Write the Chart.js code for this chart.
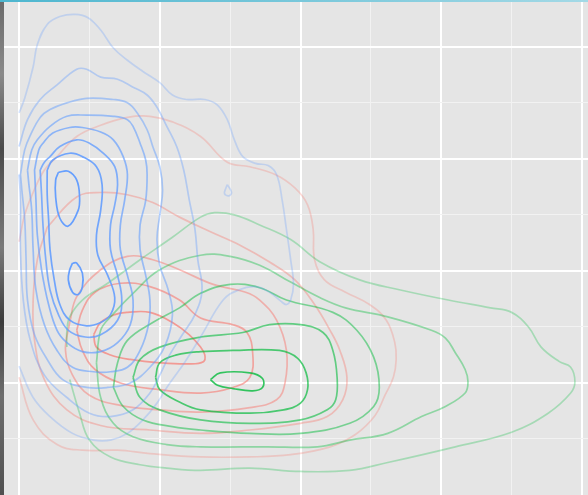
<!DOCTYPE html>
<html>
<head>
<meta charset="utf-8">
<script src="https://cdn.jsdelivr.net/npm/chart.js@4.4.1/dist/chart.umd.min.js"></script>
<style>
  html, body { margin: 0; padding: 0; background: #ffffff; overflow: hidden; }
  #wrap { width: 588px; height: 495px; position: relative; }
</style>
</head>
<body>
<div id="wrap"><canvas id="chart" width="588" height="495"></canvas></div>
<script>
// Grid breaks (major on whole numbers, minor halfway between)
const xBreaks = [0, 0.5, 1, 1.5, 2, 2.5, 3, 3.5, 4];
const yBreaks = [-0.5, 0, 0.5, 1, 1.5, 2, 2.5, 3];

// Density contour paths per group, as [x, y] pairs, outermost level first
const bluePaths = [
  [[0,2.41],[0.04,2.54],[0.10,2.82],[0.13,3.02],[0.20,3.20],[0.29,3.27],[0.40,3.29],[0.49,3.26],[0.58,3.15],[0.67,2.99],[0.77,2.88],[0.88,2.78],[1.00,2.68],[1.09,2.57],[1.19,2.53],[1.32,2.53],[1.41,2.48],[1.48,2.35],[1.53,2.17],[1.59,2.02],[1.68,1.96],[1.77,1.94],[1.83,1.86],[1.87,1.63],[1.90,1.37],[1.93,1.10],[1.95,0.88],[1.93,0.74],[1.90,0.70],[1.86,0.73],[1.78,0.81],[1.68,0.86],[1.56,0.83],[1.45,0.74],[1.29,0.41],[1.18,0.19],[1.05,-0.04],[0.98,-0.18],[0.88,-0.33],[0.77,-0.45],[0.65,-0.51],[0.53,-0.51],[0.38,-0.45],[0.22,-0.30],[0.10,-0.13],[0,0.15]],
  [[1.48,1.77],[1.51,1.70],[1.49,1.67],[1.46,1.69],[1.47,1.74]],
  [[0,2.11],[0.06,2.35],[0.15,2.53],[0.27,2.66],[0.41,2.80],[0.48,2.80],[0.58,2.73],[0.70,2.71],[0.81,2.64],[0.91,2.57],[0.98,2.46],[1.05,2.29],[1.12,2.11],[1.17,1.90],[1.21,1.63],[1.25,1.37],[1.27,1.10],[1.30,0.83],[1.25,0.61],[1.16,0.43],[1.07,0.25],[1.00,0.07],[0.93,-0.09],[0.81,-0.24],[0.65,-0.30],[0.50,-0.27],[0.34,-0.13],[0.18,0.07],[0.08,0.38],[0.03,0.74],[0.01,1.19],[0.01,1.63],[0,1.86]],
  [[0.01,1.86],[0.04,2.08],[0.08,2.21],[0.15,2.37],[0.22,2.44],[0.34,2.50],[0.48,2.54],[0.67,2.53],[0.77,2.50],[0.84,2.41],[0.91,2.26],[0.95,2.11],[1.00,1.93],[1.02,1.72],[1.00,1.50],[0.98,1.28],[1.00,1.05],[1.06,0.83],[1.09,0.61],[1.04,0.34],[0.93,0.14],[0.79,0],[0.63,-0.04],[0.48,-0.04],[0.31,0.03],[0.20,0.21],[0.11,0.43],[0.06,0.74],[0.05,1.10],[0.04,1.46],[0.02,1.72]],
  [[0.06,1.90],[0.09,2.08],[0.13,2.17],[0.22,2.29],[0.34,2.38],[0.48,2.39],[0.67,2.38],[0.77,2.35],[0.81,2.29],[0.86,2.14],[0.90,1.99],[0.91,1.86],[0.90,1.63],[0.86,1.41],[0.86,1.19],[0.90,0.96],[0.93,0.74],[0.92,0.52],[0.86,0.29],[0.77,0.14],[0.65,0.10],[0.53,0.10],[0.38,0.14],[0.27,0.29],[0.18,0.52],[0.12,0.83],[0.10,1.19],[0.09,1.54],[0.07,1.77]],
  [[0.11,1.90],[0.14,2.08],[0.17,2.14],[0.24,2.23],[0.36,2.28],[0.45,2.28],[0.58,2.24],[0.67,2.17],[0.74,2.02],[0.77,1.86],[0.75,1.63],[0.72,1.41],[0.72,1.19],[0.77,0.96],[0.81,0.74],[0.79,0.52],[0.70,0.36],[0.58,0.28],[0.45,0.28],[0.34,0.36],[0.27,0.47],[0.21,0.70],[0.16,1.01],[0.13,1.32],[0.12,1.63]],
  [[0.15,1.90],[0.18,1.97],[0.22,2.02],[0.29,2.11],[0.41,2.17],[0.50,2.14],[0.60,2.05],[0.68,1.93],[0.70,1.77],[0.68,1.59],[0.65,1.41],[0.65,1.19],[0.70,0.96],[0.73,0.74],[0.70,0.56],[0.58,0.43],[0.47,0.41],[0.35,0.47],[0.28,0.61],[0.22,0.83],[0.19,1.10],[0.17,1.41],[0.16,1.68]],
  [[0.20,1.90],[0.24,1.99],[0.36,2.05],[0.45,2.02],[0.55,1.93],[0.59,1.77],[0.58,1.54],[0.55,1.32],[0.56,1.14],[0.63,0.96],[0.68,0.76],[0.65,0.61],[0.58,0.54],[0.48,0.51],[0.36,0.56],[0.29,0.70],[0.25,0.92],[0.22,1.19],[0.21,1.46],[0.20,1.68]],
  [[0.28,1.88],[0.35,1.89],[0.41,1.81],[0.43,1.66],[0.42,1.54],[0.35,1.40],[0.29,1.47],[0.26,1.66],[0.26,1.81]],
  [[0.38,1.07],[0.41,1.07],[0.45,0.98],[0.45,0.86],[0.42,0.79],[0.38,0.81],[0.35,0.92],[0.36,1.01]]
];
const blueLevels = [1, 1, 2, 3, 4, 5, 6, 7, 8, 8];
const blueClosed = [false, true, false, true, true, true, true, true, true, true];

const redPaths = [
  [[0,1.26],[0.04,1.50],[0.10,1.70],[0.18,1.90],[0.27,2.02],[0.41,2.20],[0.58,2.30],[0.77,2.37],[0.93,2.38],[1.09,2.33],[1.29,2.20],[1.48,1.97],[1.64,1.93],[1.82,1.86],[1.96,1.74],[2.05,1.59],[2.09,1.37],[2.10,1.10],[2.17,0.92],[2.32,0.81],[2.49,0.70],[2.61,0.56],[2.67,0.36],[2.68,0.21],[2.66,0.05],[2.60,-0.11],[2.53,-0.29],[2.39,-0.46],[2.21,-0.57],[1.93,-0.64],[1.64,-0.66],[1.29,-0.66],[0.93,-0.63],[0.70,-0.60],[0.45,-0.60],[0.27,-0.55],[0.10,-0.33],[0,0.05]],
  [[0.20,1.39],[0.41,1.66],[0.58,1.70],[0.77,1.68],[0.95,1.61],[1.14,1.48],[1.36,1.35],[1.57,1.23],[1.78,1.08],[1.96,0.92],[2.10,0.70],[2.21,0.47],[2.28,0.29],[2.33,0.05],[2.30,-0.15],[2.19,-0.30],[2.00,-0.36],[1.64,-0.42],[1.29,-0.45],[0.93,-0.42],[0.58,-0.38],[0.34,-0.24],[0.18,0.03],[0.11,0.38],[0.10,0.74],[0.13,1.10]],
  [[0.36,0.54],[0.41,0.77],[0.58,1.01],[0.77,1.13],[0.95,1.10],[1.14,1.01],[1.38,0.88],[1.61,0.81],[1.71,0.74],[1.83,0.56],[1.90,0.29],[1.89,0],[1.83,-0.15],[1.64,-0.22],[1.29,-0.26],[1.00,-0.24],[0.72,-0.20],[0.50,-0.11],[0.38,0.07],[0.33,0.29]],
  [[0.41,0.47],[0.45,0.65],[0.54,0.81],[0.72,0.89],[0.93,0.86],[1.14,0.74],[1.29,0.58],[1.52,0.52],[1.62,0.45],[1.66,0.27],[1.64,0.05],[1.52,-0.04],[1.29,-0.09],[1.00,-0.06],[0.72,0],[0.54,0.12],[0.45,0.29]],
  [[0.53,0.43],[0.58,0.54],[0.68,0.61],[0.77,0.63],[0.93,0.63],[1.09,0.54],[1.21,0.43],[1.29,0.32],[1.32,0.25],[1.31,0.19],[1.21,0.17],[1.00,0.18],[0.79,0.21],[0.65,0.25],[0.55,0.32]]
];
const redLevels = [1, 2, 3, 4, 5];
const redClosed = [false, true, true, true, true];

const greenPaths = [
  [[0.34,0.32],[0.34,0.47],[0.36,0.59],[0.45,0.74],[0.63,0.89],[0.86,1.10],[1.09,1.30],[1.29,1.48],[1.39,1.52],[1.53,1.50],[1.71,1.41],[1.93,1.28],[2.14,1.08],[2.42,0.92],[2.71,0.83],[3.05,0.74],[3.35,0.67],[3.50,0.63],[3.62,0.50],[3.71,0.32],[3.84,0.19],[3.92,0.14],[3.95,0.01],[3.92,-0.09],[3.76,-0.27],[3.50,-0.44],[3.10,-0.57],[2.62,-0.71],[2.35,-0.78],[2.00,-0.79],[1.64,-0.76],[1.29,-0.78],[1.05,-0.76],[0.86,-0.73],[0.65,-0.66],[0.50,-0.51],[0.43,-0.27],[0.36,0.03]],
  [[0.55,0.18],[0.58,0.47],[0.65,0.59],[0.81,0.80],[1.00,1.01],[1.29,1.14],[1.50,1.13],[1.71,1.05],[1.93,0.90],[2.14,0.76],[2.32,0.67],[2.62,0.59],[2.93,0.47],[3.03,0.40],[3.10,0.27],[3.17,0.12],[3.19,0.01],[3.17,-0.09],[3.03,-0.21],[2.86,-0.30],[2.62,-0.45],[2.35,-0.51],[2.12,-0.57],[1.76,-0.57],[1.29,-0.57],[1.05,-0.55],[0.81,-0.48],[0.67,-0.36],[0.58,-0.13]],
  [[0.67,-0.04],[0.70,0.18],[0.77,0.38],[0.95,0.54],[1.14,0.67],[1.29,0.80],[1.50,0.88],[1.71,0.85],[1.90,0.74],[2.23,0.63],[2.40,0.47],[2.52,0.23],[2.56,-0.04],[2.52,-0.21],[2.35,-0.36],[2.00,-0.45],[1.64,-0.45],[1.29,-0.42],[1.09,-0.39],[0.88,-0.33],[0.74,-0.21]],
  [[0.81,0.05],[0.86,0.21],[1.00,0.32],[1.29,0.41],[1.59,0.45],[1.78,0.52],[2.00,0.52],[2.16,0.45],[2.23,0.29],[2.26,0.05],[2.25,-0.15],[2.19,-0.24],[2.00,-0.33],[1.64,-0.36],[1.29,-0.33],[1.00,-0.24],[0.86,-0.13]],
  [[0.97,0.05],[1.00,0.18],[1.12,0.25],[1.29,0.28],[1.52,0.29],[1.85,0.29],[1.98,0.22],[2.04,0.09],[2.05,-0.06],[2.00,-0.18],[1.88,-0.24],[1.64,-0.27],[1.29,-0.24],[1.14,-0.17],[1.00,-0.06]],
  [[1.36,0.03],[1.43,0.09],[1.64,0.09],[1.73,0.04],[1.73,-0.04],[1.66,-0.07],[1.52,-0.05],[1.41,-0.02]]
];
const greenLevels = [1, 2, 3, 4, 5, 6];
const greenClosed = [false, true, true, true, true, true];

// Line opacity per density level
const levelAlpha = [0, 0.28, 0.38, 0.48, 0.58, 0.68, 0.78, 0.88, 0.96];

function rgba(hex, a) {
  const n = parseInt(hex.slice(1), 16);
  return `rgba(${(n >> 16) & 255},${(n >> 8) & 255},${n & 255},${a})`;
}

function buildSets(paths, levels, closed, hex) {
  return paths.map((p, i) => {
    const pts = p.map(([x, y]) => ({ x, y }));
    if (closed[i]) pts.push({ x: p[0][0], y: p[0][1] });
    return {
      data: pts,
      showLine: true,
      borderColor: rgba(hex, levelAlpha[levels[i]]),
      borderWidth: 1.7,
      pointRadius: 0,
      pointHoverRadius: 0,
      tension: 0.4,
      fill: false
    };
  });
}

// First dataset is painted last, so blue sits on top
const datasets = [
  ...buildSets(bluePaths, blueLevels, blueClosed, '#619CFF'),
  ...buildSets(greenPaths, greenLevels, greenClosed, '#00BA38'),
  ...buildSets(redPaths, redLevels, redClosed, '#F8766D')
];

// Panel fill plus the thin strips around the panel
const backdrop = {
  id: 'backdrop',
  beforeDraw(chart) {
    const { ctx, chartArea: a, width, height } = chart;
    ctx.save();
    ctx.fillStyle = '#E5E5E5';
    ctx.fillRect(0, 0, width, height);
    const g = ctx.createLinearGradient(0, 0, 0, height);
    g.addColorStop(0, '#6a6a6a');
    g.addColorStop(0.15, '#8a8a8a');
    g.addColorStop(0.3, '#4a4a4a');
    g.addColorStop(0.5, '#7a7a7a');
    g.addColorStop(0.65, '#3c3c3c');
    g.addColorStop(0.8, '#6e6e6e');
    g.addColorStop(1, '#505050');
    ctx.fillStyle = g;
    ctx.fillRect(0, 0, a.left, height);
    const t = ctx.createLinearGradient(0, 0, width, 0);
    t.addColorStop(0, '#4DB6CF');
    t.addColorStop(1, '#A3D9E6');
    ctx.fillStyle = t;
    ctx.fillRect(0, 0, width, a.top);
    ctx.restore();
  }
};

const isMajor = v => Math.abs(v - Math.round(v)) < 1e-9;

function gridAxis(min, max, breaks) {
  return {
    type: 'linear',
    min, max,
    afterBuildTicks: s => { s.ticks = breaks.map(v => ({ value: v })); },
    ticks: { display: false },
    border: { display: false },
    grid: {
      drawTicks: false,
      color: c => (c.tick && isMajor(c.tick.value)) ? '#FFFFFF' : '#F2F2F2',
      lineWidth: c => (c.tick && isMajor(c.tick.value)) ? 2 : 1
    }
  };
}

new Chart(document.getElementById('chart'), {
  type: 'scatter',
  data: { datasets },
  options: {
    responsive: false,
    animation: false,
    devicePixelRatio: 1,
    layout: { padding: { left: 4, top: 2, right: 0, bottom: 0 } },
    plugins: { legend: { display: false }, tooltip: { enabled: false } },
    events: [],
    scales: {
      x: gridAxis(-0.107, 4.043, xBreaks),
      y: gridAxis(-1.0, 3.40, yBreaks)
    }
  },
  plugins: [backdrop]
});
</script>
</body>
</html>
